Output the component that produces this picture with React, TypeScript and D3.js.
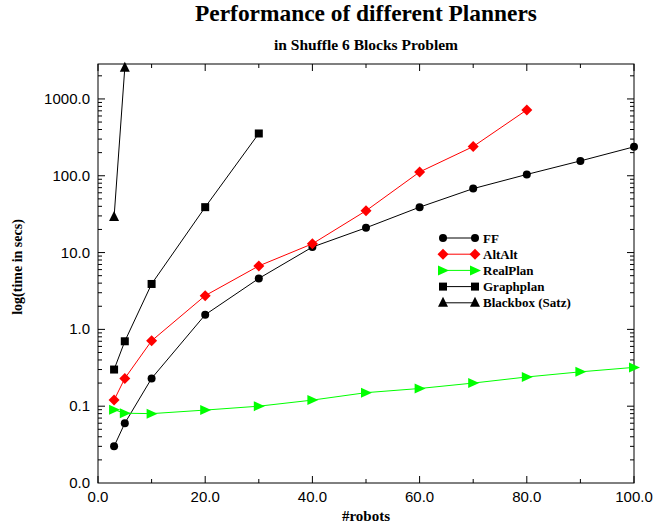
import React from 'react';
import * as d3 from 'd3';

const robotsFF = [3, 5, 10, 20, 30, 40, 50, 60, 70, 80, 90, 100];
const timeFF = [0.03, 0.06, 0.23, 1.55, 4.6, 11.8, 21, 39, 68, 104, 156, 238];

const robotsAltAlt = [3, 5, 10, 20, 30, 40, 50, 60, 70, 80];
const timeAltAlt = [0.12, 0.23, 0.71, 2.75, 6.7, 13, 35, 112, 240, 720];

const robotsRealPlan = [3, 5, 10, 20, 30, 40, 50, 60, 70, 80, 90, 100];
const timeRealPlan = [0.09, 0.081, 0.08, 0.089, 0.1, 0.12, 0.15, 0.17, 0.2, 0.24, 0.28, 0.32];

const robotsGraphplan = [3, 5, 10, 20, 30];
const timeGraphplan = [0.3, 0.7, 3.9, 39, 355];

const robotsBlackbox = [3, 5];
const timeBlackbox = [29, 2550];

const xTicks = [0, 20, 40, 60, 80, 100];
const xTickLabels = ['0.0', '20.0', '40.0', '60.0', '80.0', '100.0'];
const yTicks = [0.01, 0.1, 1, 10, 100, 1000];
const yTickLabels = ['0.0', '0.1', '1.0', '10.0', '100.0', '1000.0'];

const series = [
  { name: 'FF', x: robotsFF, y: timeFF, color: '#000000', marker: 'circle' },
  { name: 'AltAlt', x: robotsAltAlt, y: timeAltAlt, color: '#ff0000', marker: 'diamond' },
  { name: 'RealPlan', x: robotsRealPlan, y: timeRealPlan, color: '#00ff00', marker: 'triright' },
  { name: 'Graphplan', x: robotsGraphplan, y: timeGraphplan, color: '#000000', marker: 'square' },
  { name: 'Blackbox (Satz)', x: robotsBlackbox, y: timeBlackbox, color: '#000000', marker: 'triup' },
];

const W = 654;
const H = 525;
const left = 98, right = 634, top = 64, bottom = 483;

const serif = '"Liberation Serif", "Times New Roman", serif';
const sans = '"Liberation Sans", Arial, sans-serif';

function Marker({ kind, cx, cy, color }: { kind: string; cx: number; cy: number; color: string }) {
  if (kind === 'circle') return <circle cx={cx} cy={cy} r={4} fill={color} />;
  if (kind === 'square') return <rect x={cx - 4} y={cy - 4} width={8} height={8} fill={color} />;
  if (kind === 'diamond')
    return <path d={`M${cx},${cy - 5.5}L${cx + 5.5},${cy}L${cx},${cy + 5.5}L${cx - 5.5},${cy}Z`} fill={color} />;
  if (kind === 'triright')
    return <path d={`M${cx + 6},${cy}L${cx - 5},${cy - 5}L${cx - 5},${cy + 5}Z`} fill={color} />;
  return <path d={`M${cx},${cy - 6}L${cx + 5},${cy + 4}L${cx - 5},${cy + 4}Z`} fill={color} />;
}

export default function App() {
  const x = d3.scaleLinear().domain([0, 100]).range([left, right]);
  const y = d3.scaleLog().domain([0.01, 2850]).range([bottom, top]);

  const line = d3.line<[number, number]>().x(d => x(d[0])).y(d => y(d[1]));

  const xMinor = d3.range(10, 100, 20);
  const yMinor: number[] = [];
  for (let p = -2; p <= 3; p++) {
    for (let m = 2; m <= 9; m++) {
      const v = m * Math.pow(10, p);
      if (v < 2850) yMinor.push(v);
    }
  }

  const legendX0 = 443, legendX1 = 475, legendY0 = 238, legendDy = 16.2;

  return (
    <svg width={W} height={H} style={{ position: 'absolute', left: 0, top: 0, background: '#fff' }}>
      <rect x={0} y={0} width={W} height={H} fill="#fff" />
      <text x={366} y={21} textAnchor="middle" fontFamily={serif} fontWeight="bold" fontSize={23.4}>
        Performance of different Planners
      </text>
      <text x={366} y={50} textAnchor="middle" fontFamily={serif} fontWeight="bold" fontSize={15.5}>
        in Shuffle 6 Blocks Problem
      </text>

      <rect x={left} y={top} width={right - left} height={bottom - top} fill="none" stroke="#000" strokeWidth={1} />

      {xTicks.map((t, i) => (
        <g key={'xt' + i}>
          <line x1={x(t)} x2={x(t)} y1={bottom} y2={bottom - 7} stroke="#000" />
          <line x1={x(t)} x2={x(t)} y1={top} y2={top + 7} stroke="#000" />
          <text x={x(t)} y={502} textAnchor="middle" fontFamily={sans} fontSize={15}>
            {xTickLabels[i]}
          </text>
        </g>
      ))}
      {xMinor.map((t, i) => (
        <g key={'xm' + i}>
          <line x1={x(t)} x2={x(t)} y1={bottom} y2={bottom - 4} stroke="#000" />
          <line x1={x(t)} x2={x(t)} y1={top} y2={top + 4} stroke="#000" />
        </g>
      ))}
      {yTicks.map((t, i) => (
        <g key={'yt' + i}>
          {i > 0 && <line x1={left} x2={left + 7} y1={y(t)} y2={y(t)} stroke="#000" />}
          {i > 0 && <line x1={right} x2={right - 7} y1={y(t)} y2={y(t)} stroke="#000" />}
          <text x={90} y={y(t) + 5} textAnchor="end" fontFamily={sans} fontSize={15}>
            {yTickLabels[i]}
          </text>
        </g>
      ))}
      {yMinor.map((t, i) => (
        <g key={'ym' + i}>
          <line x1={left} x2={left + 4} y1={y(t)} y2={y(t)} stroke="#000" />
          <line x1={right} x2={right - 4} y1={y(t)} y2={y(t)} stroke="#000" />
        </g>
      ))}

      <text
        transform={`translate(22, 267) rotate(-90)`}
        textAnchor="middle"
        fontFamily={serif}
        fontWeight="bold"
        fontSize={14}
      >
        log(time in secs)
      </text>
      <text x={366} y={521} textAnchor="middle" fontFamily={serif} fontWeight="bold" fontSize={15}>
        #robots
      </text>

      {series.map(s => {
        const pts = s.x.map((v, i) => [v, s.y[i]] as [number, number]);
        return (
          <g key={s.name}>
            <path d={line(pts) || ''} fill="none" stroke={s.color} strokeWidth={1} />
            {pts.map((p, i) => (
              <Marker key={i} kind={s.marker} cx={x(p[0])} cy={y(p[1])} color={s.color} />
            ))}
          </g>
        );
      })}

      {series.map((s, i) => {
        const ly = legendY0 + i * legendDy;
        return (
          <g key={'lg' + s.name}>
            <line x1={legendX0} x2={legendX1} y1={ly} y2={ly} stroke={s.color} />
            <Marker kind={s.marker} cx={legendX0} cy={ly} color={s.color} />
            <Marker kind={s.marker} cx={legendX1} cy={ly} color={s.color} />
            <text x={483} y={ly + 4.5} fontFamily={serif} fontWeight="bold" fontSize={13}>
              {s.name}
            </text>
          </g>
        );
      })}
    </svg>
  );
}
